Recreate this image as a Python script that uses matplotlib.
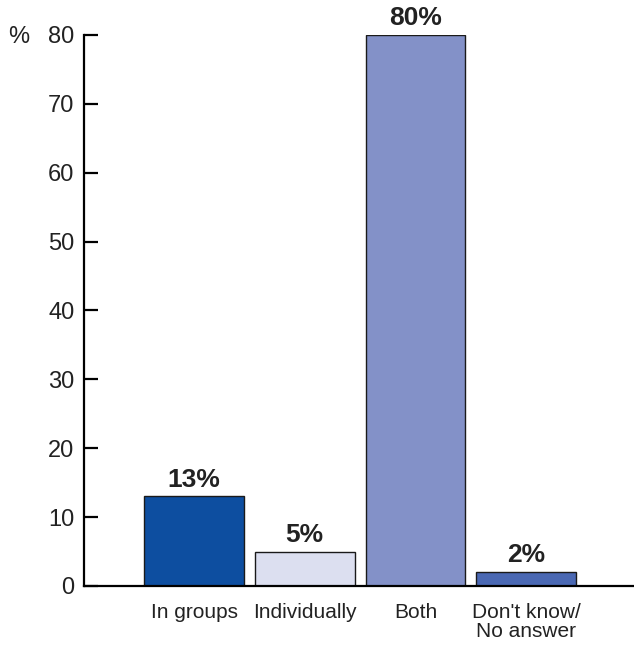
import numpy as np
import matplotlib.pyplot as plt

plt.rcParams['font.family'] = ['Liberation Sans', 'DejaVu Sans']

# Datos del gráfico
categorias = ['In groups', 'Individually', 'Both', "Don't know/\nNo answer"]
valores = [13, 5, 80, 2]
etiquetas = ['13%', '5%', '80%', '2%']
colores = ['#0d4ea0', '#dcdff0', '#8391c8', '#4a68b3']
yticks = [0, 10, 20, 30, 40, 50, 60, 70, 80]

fig = plt.figure(figsize=(6.34, 6.54), dpi=100)
ax = fig.add_axes([0.1325, 0.104, 0.8675, 0.8425])

x = np.arange(len(categorias))
ax.bar(x, valores, width=0.9, color=colores, edgecolor='#1a1a1a', linewidth=1.0, zorder=2)

for xi, v, txt in zip(x, valores, etiquetas):
	ax.text(xi, v + 0.7, txt, ha='center', va='bottom', fontsize=19,
		fontweight='bold', color='#222222')

ax.set_xlim(-0.994, 3.975)
ax.set_ylim(0, 80)
ax.set_yticks(yticks)
ax.set_xticks(x)
ax.set_xticklabels(categorias, fontsize=15, color='#222222', linespacing=1.05)

ax.spines['top'].set_visible(False)
ax.spines['right'].set_visible(False)
ax.spines['left'].set_linewidth(1.6)
ax.spines['bottom'].set_linewidth(1.6)
ax.tick_params(axis='y', direction='in', length=10, width=1.6, pad=7,
	labelsize=17, labelcolor='#222222')
ax.tick_params(axis='x', length=0, pad=12)

# Símbolo de porcentaje arriba a la izquierda
fig.text(8/634, 1 - 37/654, '%', fontsize=17, color='#222222', ha='left', va='center')

fig.savefig('out.png', dpi=100)
